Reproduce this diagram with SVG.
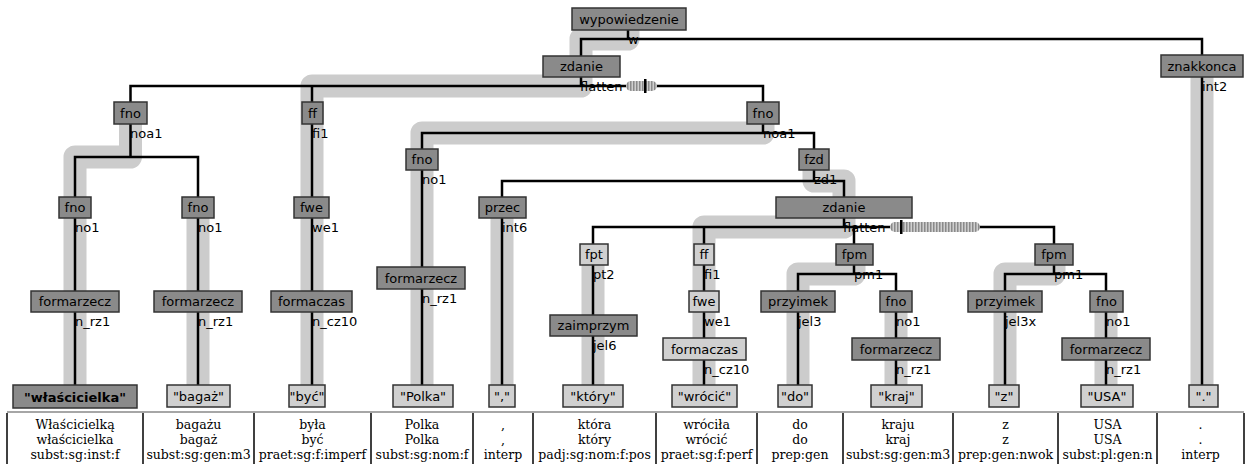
<svg xmlns="http://www.w3.org/2000/svg" width="1250" height="464" viewBox="0 0 1250 464">
<style>
.n rect{fill:#8a8a8a;stroke:#333;stroke-width:1.5}
.lt rect{fill:#d0d0d0;stroke:#333;stroke-width:1.5}
.n text,.lt text{font-family:"DejaVu Sans",sans-serif;font-size:13px;text-anchor:middle;fill:#000}
.b text{font-weight:bold}
.c path{fill:none;stroke:#000;stroke-width:2.5}
.h path{fill:none;stroke:#cccccc;stroke-width:23;stroke-linejoin:round}
.c text{font-family:"DejaVu Sans",sans-serif;font-size:13px;fill:#000}
.tb text{font-family:"DejaVu Serif",serif;font-size:12.5px;text-anchor:middle;fill:#000}
.tb line{stroke:#000;stroke-width:1.5}
</style>
<defs>
<pattern id="stripes" width="3" height="12" patternUnits="userSpaceOnUse">
<rect width="3" height="12" fill="#cfcfcf"/>
<rect width="1.5" height="12" fill="#8a8a8a"/>
</pattern>
</defs>
<rect width="1250" height="464" fill="#fff"/>
<g class="h" id="heads">
<path d="M628 30V39H581V86H312V386"/>
<path d="M130.5 124V157H75V386"/>
<path d="M198 218V386"/>
<path d="M763 124V133H422V386"/>
<path d="M814 170V181H844V227H704V386"/>
<path d="M502 218V386"/>
<path d="M593 265V386"/>
<path d="M854 265V274H798V386"/>
<path d="M896 312V386"/>
<path d="M1054 265V274H1005V386"/>
<path d="M1106 312V386"/>
<path d="M1202 77V386"/>
</g>
<g class="c" id="connectors">
<path d="M628 30V39M581 56V39H1202V55"/>
<path d="M581 77V86M130.5 102V86H763V102M312 86V102"/>
<path d="M130.5 124V157M75 197V157H198V197"/>
<path d="M75 218V291M75 312V385"/>
<path d="M198 218V291M198 312V386"/>
<path d="M312 124V197M312 218V291M312 312V386"/>
<path d="M763 124V133M422 149V133H814V149"/>
<path d="M422 170V267M422 289V386"/>
<path d="M814 170V181M502 197V181H844V197"/>
<path d="M502 218V386"/>
<path d="M844 218V227M593 244V227H1054V244M704 227V244M854 227V244"/>
<path d="M593 265V315M593 336V386"/>
<path d="M704 265V291M704 312V338M704 360V386"/>
<path d="M854 265V274M798 291V274H896V291"/>
<path d="M798 312V386"/>
<path d="M896 312V338M896 360V386"/>
<path d="M1054 265V274M1005 291V274H1106V291"/>
<path d="M1005 312V386"/>
<path d="M1106 312V338M1106 360V386"/>
<path d="M1202 77V386"/>
<rect x="626" y="81" width="31" height="10" rx="5" fill="url(#stripes)"/>
<rect x="644" y="79" width="2.5" height="14" fill="#000"/>
<rect x="890" y="222" width="90" height="10" rx="5" fill="url(#stripes)"/>
<rect x="900" y="220" width="2.5" height="14" fill="#000"/>
<text x="628" y="44">w</text>
<text x="580" y="91">flatten</text>
<text x="130" y="138">noa1</text>
<text x="312" y="138">fi1</text>
<text x="763" y="138">noa1</text>
<text x="75" y="232">no1</text>
<text x="198" y="232">no1</text>
<text x="312" y="232">we1</text>
<text x="75" y="326">n_rz1</text>
<text x="198" y="326">n_rz1</text>
<text x="312" y="326">n_cz10</text>
<text x="422" y="184">no1</text>
<text x="422" y="303">n_rz1</text>
<text x="814" y="184">zd1</text>
<text x="502" y="232">int6</text>
<text x="843" y="232">flatten</text>
<text x="593" y="279">pt2</text>
<text x="704" y="279">fi1</text>
<text x="854" y="279">pm1</text>
<text x="1054" y="279">pm1</text>
<text x="593" y="350">jel6</text>
<text x="704" y="326">we1</text>
<text x="704" y="374">n_cz10</text>
<text x="798" y="326">jel3</text>
<text x="896" y="326">no1</text>
<text x="896" y="374">n_rz1</text>
<text x="1005" y="326">jel3x</text>
<text x="1106" y="326">no1</text>
<text x="1106" y="374">n_rz1</text>
<text x="1202" y="91">int2</text>
</g>
<g id="n-wypowiedzenie" class="n"><rect x="572" y="8" width="114" height="22"/><text x="629" y="23.5">wypowiedzenie</text></g>
<g id="n-zdanie1" class="n"><rect x="543" y="56" width="77" height="21"/><text x="581.5" y="71">zdanie</text></g>
<g id="n-znakkonca" class="n"><rect x="1161" y="55" width="82" height="22"/><text x="1202" y="70.5">znakkonca</text></g>
<g id="n-fno1" class="n"><rect x="114" y="102" width="33" height="22"/><text x="130.5" y="117.5">fno</text></g>
<g id="n-ff1" class="n"><rect x="302" y="102" width="21" height="22"/><text x="312.5" y="117.5">ff</text></g>
<g id="n-fno2" class="n"><rect x="747" y="102" width="32" height="22"/><text x="763" y="117.5">fno</text></g>
<g id="n-fno3" class="n"><rect x="59" y="197" width="32" height="21"/><text x="75" y="212">fno</text></g>
<g id="n-fno4" class="n"><rect x="182" y="197" width="32" height="21"/><text x="198" y="212">fno</text></g>
<g id="n-fwe1" class="n"><rect x="294" y="197" width="35" height="21"/><text x="311.5" y="212">fwe</text></g>
<g id="n-formarzecz1" class="n"><rect x="31" y="291" width="88" height="21"/><text x="75" y="306">formarzecz</text></g>
<g id="n-formarzecz2" class="n"><rect x="154" y="291" width="88" height="21"/><text x="198" y="306">formarzecz</text></g>
<g id="n-formaczas1" class="n"><rect x="271" y="291" width="81" height="21"/><text x="311.5" y="306">formaczas</text></g>
<g id="n-fno5" class="n"><rect x="406" y="149" width="32" height="21"/><text x="422" y="164">fno</text></g>
<g id="n-fzd" class="n"><rect x="799" y="149" width="30" height="21"/><text x="814" y="164">fzd</text></g>
<g id="n-formarzecz3" class="n"><rect x="377" y="267" width="88" height="22"/><text x="421" y="282.5">formarzecz</text></g>
<g id="n-przec" class="n"><rect x="479" y="197" width="47" height="21"/><text x="502.5" y="212">przec</text></g>
<g id="n-zdanie2" class="n"><rect x="776" y="197" width="136" height="21"/><text x="844" y="212">zdanie</text></g>
<g id="n-fpt" class="lt"><rect x="580" y="244" width="28" height="21"/><text x="594" y="259">fpt</text></g>
<g id="n-ff2" class="lt"><rect x="694" y="244" width="20" height="21"/><text x="704" y="259">ff</text></g>
<g id="n-fpm1" class="n"><rect x="836" y="244" width="37" height="21"/><text x="854.5" y="259">fpm</text></g>
<g id="n-fpm2" class="n"><rect x="1035" y="244" width="38" height="21"/><text x="1054" y="259">fpm</text></g>
<g id="n-fwe2" class="lt"><rect x="689" y="291" width="30" height="21"/><text x="704" y="306">fwe</text></g>
<g id="n-przyimek1" class="n"><rect x="761" y="291" width="74" height="21"/><text x="798" y="306">przyimek</text></g>
<g id="n-fno6" class="n"><rect x="880" y="291" width="32" height="21"/><text x="896" y="306">fno</text></g>
<g id="n-przyimek2" class="n"><rect x="968" y="291" width="74" height="21"/><text x="1005" y="306">przyimek</text></g>
<g id="n-fno7" class="n"><rect x="1090" y="291" width="33" height="21"/><text x="1106.5" y="306">fno</text></g>
<g id="n-zaimprzym" class="n"><rect x="550" y="315" width="87" height="21"/><text x="593.5" y="330">zaimprzym</text></g>
<g id="n-formaczas2" class="lt"><rect x="663" y="338" width="83" height="22"/><text x="704.5" y="353.5">formaczas</text></g>
<g id="n-formarzecz4" class="n"><rect x="852" y="338" width="88" height="22"/><text x="896" y="353.5">formarzecz</text></g>
<g id="n-formarzecz5" class="n"><rect x="1062" y="338" width="88" height="22"/><text x="1106" y="353.5">formarzecz</text></g>
<g id="leaf-wlascicielka" class="n b"><rect x="13" y="385" width="124" height="23"/><text x="75" y="401.5">"właścicielka"</text></g>
<g id="leaf-bagaz" class="lt"><rect x="167" y="385" width="63" height="22"/><text x="198.5" y="400.5">"bagaż"</text></g>
<g id="leaf-byc" class="lt"><rect x="289" y="385" width="36" height="22"/><text x="307" y="400.5">"być"</text></g>
<g id="leaf-polka" class="lt"><rect x="393" y="385" width="60" height="22"/><text x="423" y="400.5">"Polka"</text></g>
<g id="leaf-comma" class="lt"><rect x="489" y="385" width="26" height="22"/><text x="502" y="400.5">","</text></g>
<g id="leaf-ktory" class="lt"><rect x="563" y="385" width="60" height="22"/><text x="593" y="400.5">"który"</text></g>
<g id="leaf-wrocic" class="lt"><rect x="672" y="385" width="65" height="22"/><text x="704.5" y="400.5">"wrócić"</text></g>
<g id="leaf-do" class="lt"><rect x="778" y="385" width="34" height="22"/><text x="795" y="400.5">"do"</text></g>
<g id="leaf-kraj" class="lt"><rect x="871" y="385" width="51" height="22"/><text x="896.5" y="400.5">"kraj"</text></g>
<g id="leaf-z" class="lt"><rect x="989" y="385" width="30" height="22"/><text x="1004" y="400.5">"z"</text></g>
<g id="leaf-usa" class="lt"><rect x="1081" y="385" width="52" height="22"/><text x="1107" y="400.5">"USA"</text></g>
<g id="leaf-dot" class="lt"><rect x="1189" y="385" width="29" height="22"/><text x="1203.5" y="400.5">"."</text></g>
<g id="table" class="tb">
<line x1="7" y1="412" x2="1244" y2="412" style="stroke:#888"/>
<line x1="7" y1="413" x2="7" y2="464"/>
<line x1="143" y1="413" x2="143" y2="464"/>
<line x1="254" y1="413" x2="254" y2="464"/>
<line x1="371" y1="413" x2="371" y2="464"/>
<line x1="473" y1="413" x2="473" y2="464"/>
<line x1="533" y1="413" x2="533" y2="464"/>
<line x1="656" y1="413" x2="656" y2="464"/>
<line x1="757" y1="413" x2="757" y2="464"/>
<line x1="843" y1="413" x2="843" y2="464"/>
<line x1="953" y1="413" x2="953" y2="464"/>
<line x1="1058" y1="413" x2="1058" y2="464"/>
<line x1="1157" y1="413" x2="1157" y2="464"/>
<line x1="1244" y1="413" x2="1244" y2="464"/>
<text x="75" y="429">Właścicielką</text><text x="75" y="444">właścicielka</text><text x="75" y="459">subst:sg:inst:f</text>
<text x="198.5" y="429">bagażu</text><text x="198.5" y="444">bagaż</text><text x="198.5" y="459">subst:sg:gen:m3</text>
<text x="312.5" y="429">była</text><text x="312.5" y="444">być</text><text x="312.5" y="459">praet:sg:f:imperf</text>
<text x="422" y="429">Polka</text><text x="422" y="444">Polka</text><text x="422" y="459">subst:sg:nom:f</text>
<text x="503" y="429">,</text><text x="503" y="444">,</text><text x="503" y="459">interp</text>
<text x="594.5" y="429">która</text><text x="594.5" y="444">który</text><text x="594.5" y="459">padj:sg:nom:f:pos</text>
<text x="706.5" y="429">wróciła</text><text x="706.5" y="444">wrócić</text><text x="706.5" y="459">praet:sg:f:perf</text>
<text x="800" y="429">do</text><text x="800" y="444">do</text><text x="800" y="459">prep:gen</text>
<text x="898" y="429">kraju</text><text x="898" y="444">kraj</text><text x="898" y="459">subst:sg:gen:m3</text>
<text x="1005.5" y="429">z</text><text x="1005.5" y="444">z</text><text x="1005.5" y="459">prep:gen:nwok</text>
<text x="1107.5" y="429">USA</text><text x="1107.5" y="444">USA</text><text x="1107.5" y="459">subst:pl:gen:n</text>
<text x="1200.5" y="429">.</text><text x="1200.5" y="444">.</text><text x="1200.5" y="459">interp</text>
</g>
</svg>
